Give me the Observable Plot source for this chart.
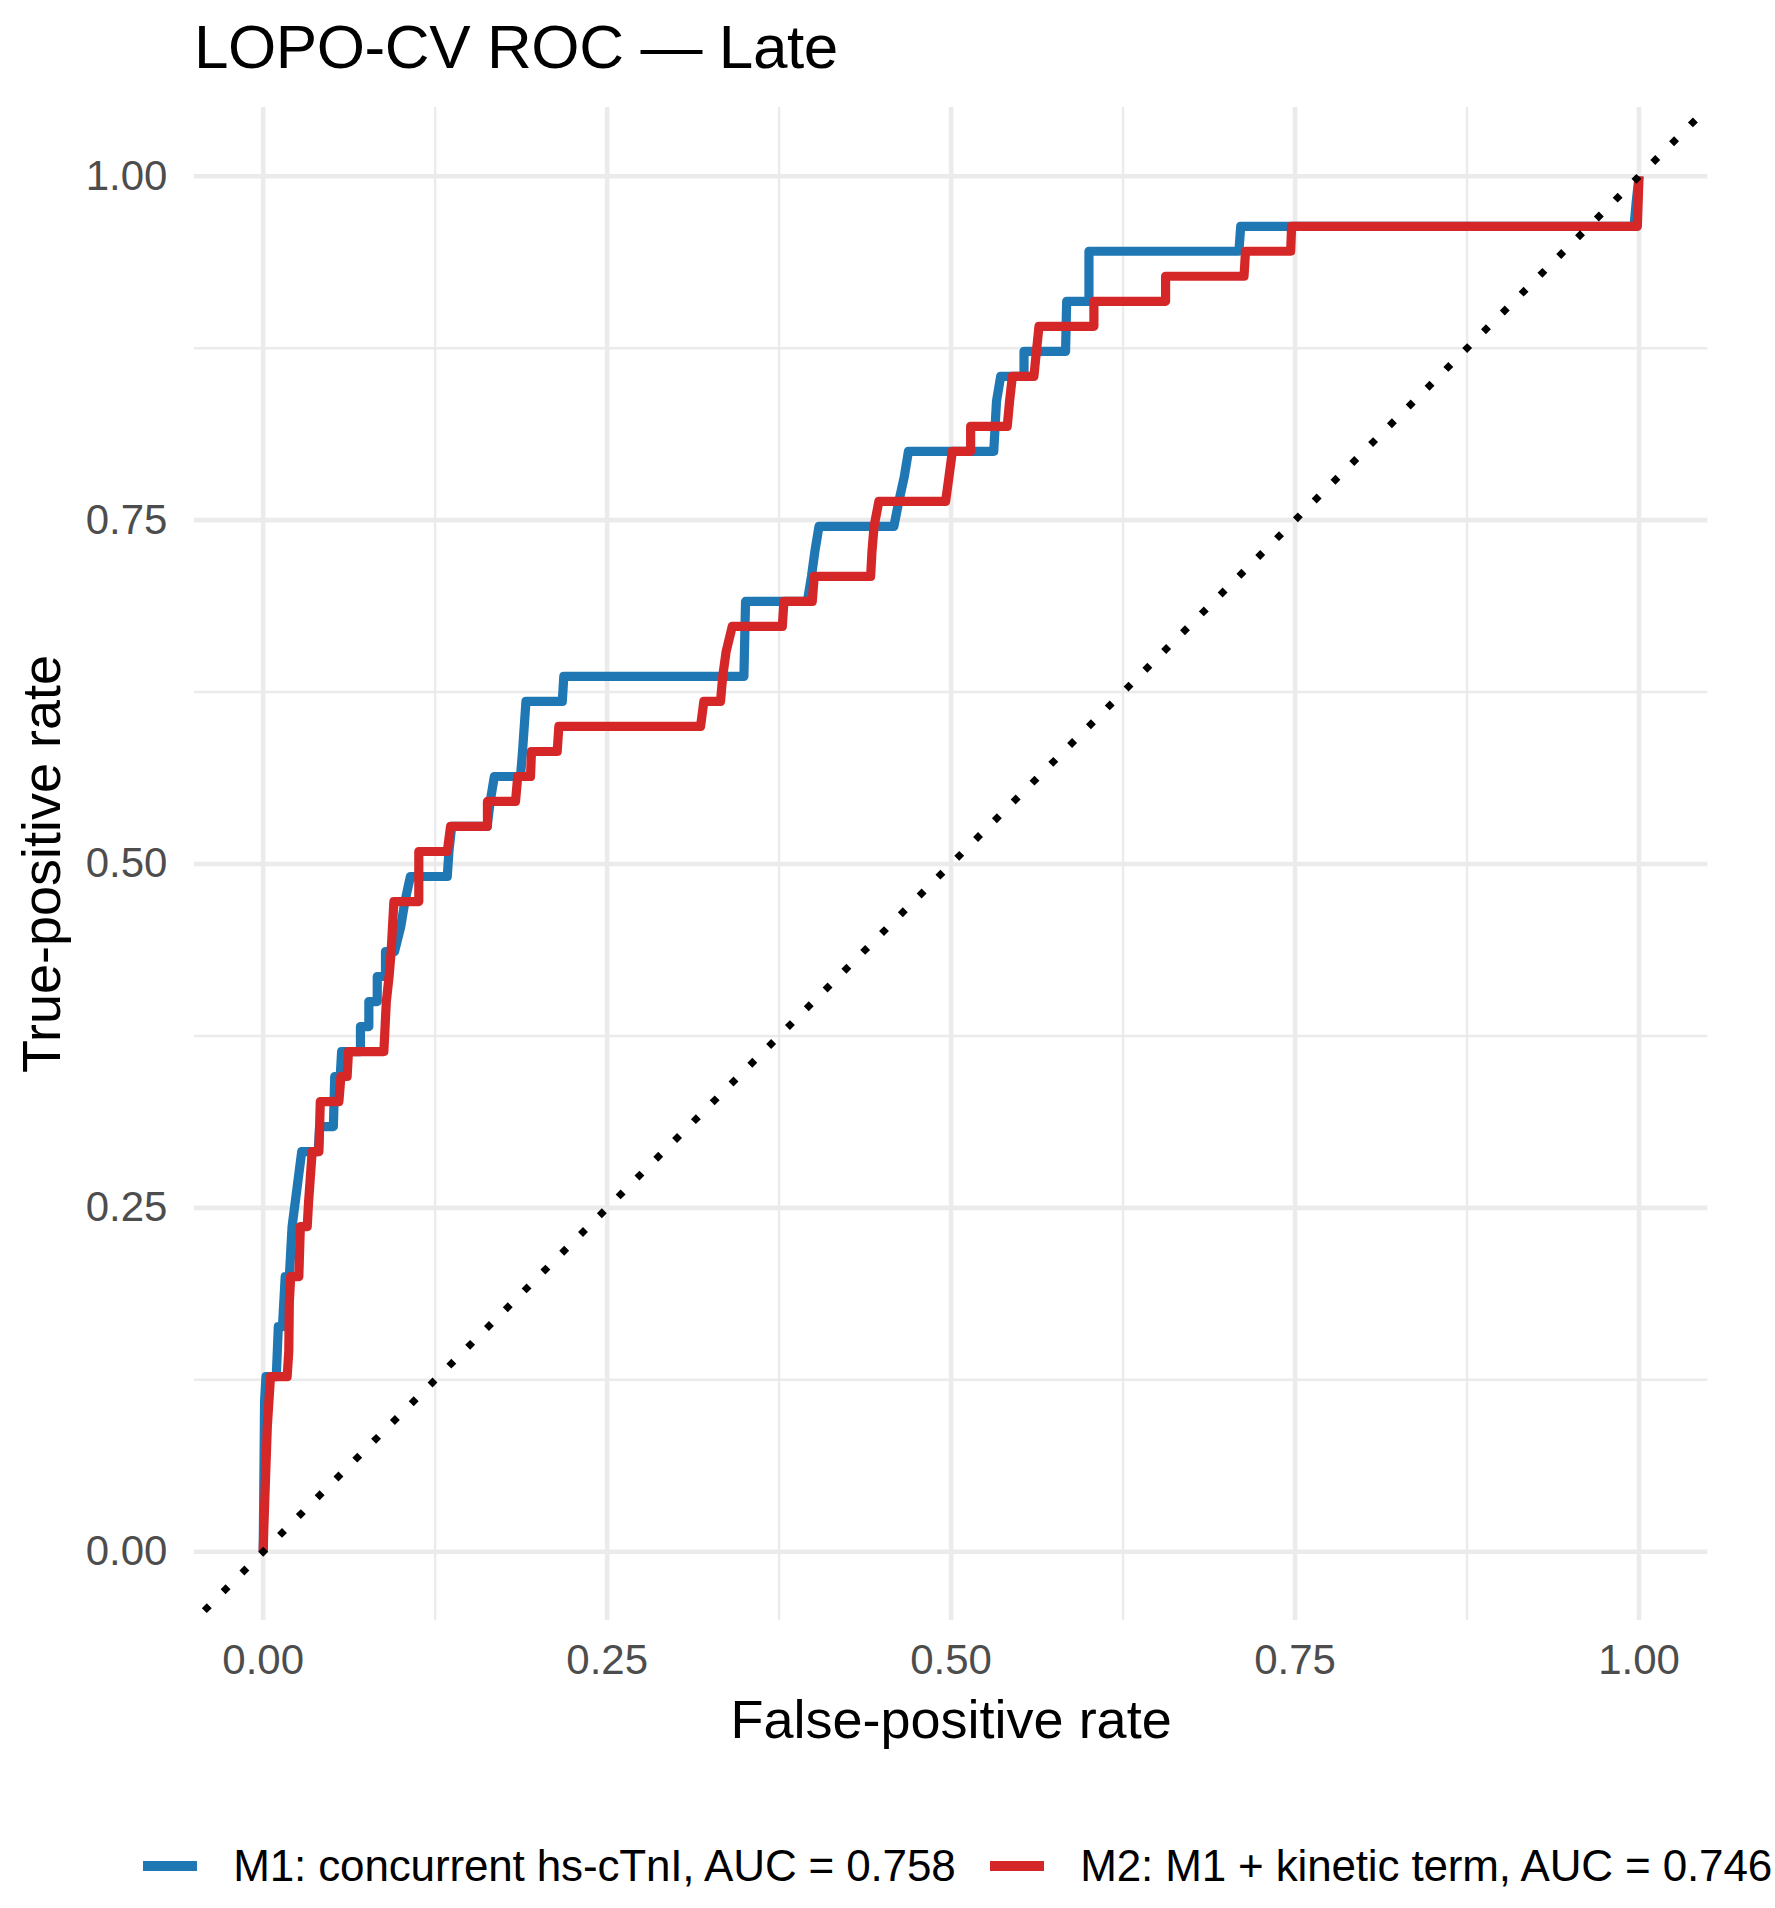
<!DOCTYPE html>
<html>
<head>
<meta charset="utf-8">
<script src="https://cdn.jsdelivr.net/npm/d3@7"></script>
<script src="https://cdn.jsdelivr.net/npm/@observablehq/plot@0.6"></script>
<style>
  html, body { margin: 0; padding: 0; background: #ffffff; }
  body { width: 1775px; height: 1908px; position: relative; overflow: hidden; font-family: "Liberation Sans", Arial, sans-serif; }
  #title { position: absolute; left: 193.9px; top: 15.5px; font-size: 62px; line-height: 1; color: #000; white-space: nowrap; letter-spacing: -0.4px; }
  #chart { position: absolute; left: 0; top: 90px; }
  #legend { position: absolute; left: 142.7px; top: 1844.4px; display: flex; align-items: center; font-size: 44px; line-height: 1; color: #000; white-space: nowrap; letter-spacing: -0.15px; }
  .key { display: inline-block; width: 54px; height: 10px; margin-right: 36.6px; }
  .item { display: flex; align-items: center; margin-right: 34px; }
</style>
</head>
<body>
<div id="title"></div>
<div id="chart"></div>
<div id="legend"></div>
<script>
const titleText = "LOPO-CV ROC — Late";
const xTitle = "False-positive rate";
const yTitle = "True-positive rate";

const seriesNames = ["M1: concurrent hs-cTnI, AUC = 0.758", "M2: M1 + kinetic term, AUC = 0.746"];
const seriesColors = ["#1F77B4", "#D62728"];

const xTickValues = [0, 0.25, 0.5, 0.75, 1];
const xTickLabels = ["0.00", "0.25", "0.50", "0.75", "1.00"];
const yTickValues = [0, 0.25, 0.5, 0.75, 1];
const yTickLabels = ["0.00", "0.25", "0.50", "0.75", "1.00"];
const minorGrid = [0.125, 0.375, 0.625, 0.875];
const axisDomain = [-0.05, 1.05];

// M1: concurrent hs-cTnI
const m1Fpr = [0, 0.001, 0.002, 0.0095, 0.011, 0.014, 0.016, 0.019, 0.021, 0.028, 0.040, 0.041, 0.051, 0.052, 0.056, 0.057,
  0.0707, 0.0707, 0.0768, 0.0768, 0.0829, 0.0829, 0.0889, 0.0889, 0.0955, 0.100, 0.103, 0.107, 0.1338, 0.135, 0.137,
  0.1628, 0.165, 0.168, 0.187, 0.1885, 0.191, 0.2174, 0.2185, 0.3494, 0.3506, 0.3955, 0.3985, 0.401, 0.404, 0.4584,
  0.462, 0.466, 0.469, 0.531, 0.533, 0.536, 0.553, 0.553, 0.5832, 0.584, 0.6002, 0.6002, 0.7092, 0.7105, 0.9964, 0.998, 1];
const m1Tpr = [0, 0.1091, 0.1273, 0.1273, 0.1636, 0.1636, 0.2, 0.2, 0.2364, 0.2909, 0.2909, 0.3091, 0.3091, 0.3455, 0.3455, 0.3636,
  0.3636, 0.3818, 0.3818, 0.4, 0.4, 0.4182, 0.4182, 0.4364, 0.4364, 0.4545, 0.4727, 0.4909, 0.4909, 0.5091, 0.5273,
  0.5273, 0.5455, 0.5636, 0.5636, 0.5818, 0.6182, 0.6182, 0.6364, 0.6364, 0.6909, 0.6909, 0.7091, 0.7273, 0.7455, 0.7455,
  0.7636, 0.7818, 0.8, 0.8, 0.8364, 0.8545, 0.8545, 0.8727, 0.8727, 0.9091, 0.9091, 0.9455, 0.9455, 0.9636, 0.9636, 0.9818, 1];

// M2: M1 + kinetic term
const m2Fpr = [0, 0.0005, 0.003, 0.0053, 0.0174, 0.0186, 0.019, 0.020, 0.0259, 0.027, 0.032, 0.033, 0.0356, 0.0405, 0.0415,
  0.055, 0.0565, 0.061, 0.062, 0.0877, 0.0895, 0.0915, 0.093, 0.095, 0.1131, 0.1131, 0.1338, 0.1362, 0.163, 0.163,
  0.1834, 0.185, 0.1943, 0.195, 0.2137, 0.2149, 0.3179, 0.3203, 0.3324, 0.334, 0.3365, 0.3409, 0.3773, 0.3785, 0.3991,
  0.4005, 0.4415, 0.4425, 0.444, 0.4475, 0.496, 0.4985, 0.5009, 0.5142, 0.5142, 0.5408, 0.5425, 0.5445, 0.5602, 0.562,
  0.5639, 0.6038, 0.6038, 0.6559, 0.6559, 0.7129, 0.714, 0.7468, 0.7475, 0.9988, 1];
const m2Tpr = [0, 0.0182, 0.0909, 0.1273, 0.1273, 0.1455, 0.1818, 0.2, 0.2, 0.2364, 0.2364, 0.2545, 0.2909, 0.2909, 0.3273,
  0.3273, 0.3455, 0.3455, 0.3636, 0.3636, 0.4, 0.4182, 0.4364, 0.4727, 0.4727, 0.5091, 0.5091, 0.5273, 0.5273, 0.5455,
  0.5455, 0.5636, 0.5636, 0.5818, 0.5818, 0.6, 0.6, 0.6182, 0.6182, 0.6364, 0.6545, 0.6727, 0.6727, 0.6909, 0.6909,
  0.7091, 0.7091, 0.7273, 0.7455, 0.7636, 0.7636, 0.7818, 0.8, 0.8, 0.8182, 0.8182, 0.8364, 0.8545, 0.8545, 0.8727,
  0.8909, 0.8909, 0.9091, 0.9091, 0.9273, 0.9273, 0.9455, 0.9455, 0.9636, 0.9636, 1];

const m1 = m1Fpr.map((x, i) => ({fpr: x, tpr: m1Tpr[i]}));
const m2 = m2Fpr.map((x, i) => ({fpr: x, tpr: m2Tpr[i]}));
const diag = axisDomain.map(v => ({fpr: v, tpr: v}));

document.getElementById("title").textContent = titleText;

const grid = "#EBEBEB";
const chart = Plot.plot({
  width: 1775,
  height: 1690,
  marginLeft: 193.9,
  marginRight: 67.7,
  marginTop: 17,
  marginBottom: 160,
  x: {domain: axisDomain},
  y: {domain: axisDomain},
  style: {fontFamily: "'Liberation Sans', Arial, sans-serif", background: "white", overflow: "visible"},
  marks: [
    Plot.ruleY(minorGrid, {stroke: grid, strokeWidth: 2.4}),
    Plot.ruleX(minorGrid, {stroke: grid, strokeWidth: 2.4}),
    Plot.ruleY(yTickValues, {stroke: grid, strokeWidth: 4.6}),
    Plot.ruleX(xTickValues, {stroke: grid, strokeWidth: 4.6}),
    Plot.line(m1, {x: "fpr", y: "tpr", stroke: seriesColors[0], strokeWidth: 9.2, strokeLinejoin: "round", strokeLinecap: "butt"}),
    Plot.line(m2, {x: "fpr", y: "tpr", stroke: seriesColors[1], strokeWidth: 9.2, strokeLinejoin: "round", strokeLinecap: "butt"}),
    Plot.line(diag, {x: "fpr", y: "tpr", stroke: "#000", strokeWidth: 7, strokeLinecap: "butt",
      strokeDasharray: "7,19.6", strokeDashoffset: 12.6}),
    Plot.axisX(xTickValues, {anchor: "bottom", tickSize: 0, tickPadding: 24, fontSize: 42, color: "#4D4D4D", label: null,
      tickFormat: d => xTickLabels[xTickValues.indexOf(d)]}),
    Plot.axisY(yTickValues, {anchor: "left", tickSize: 0, tickPadding: 27, fontSize: 42, color: "#4D4D4D", label: null,
      tickFormat: d => yTickLabels[yTickValues.indexOf(d)]}),
    Plot.text([xTitle], {text: d => d, frameAnchor: "bottom", textAnchor: "middle", dy: 117.3, lineAnchor: "bottom", fontSize: 54, fill: "#000"}),
    Plot.text([yTitle], {text: d => d, frameAnchor: "left", textAnchor: "middle", rotate: -90, dx: -134.6, lineAnchor: "bottom", fontSize: 54, fill: "#000"})
  ]
});
document.getElementById("chart").appendChild(chart);

const legend = document.getElementById("legend");
seriesNames.forEach((name, i) => {
  const item = document.createElement("div");
  item.className = "item";
  const key = document.createElement("span");
  key.className = "key";
  key.style.background = seriesColors[i];
  const label = document.createElement("span");
  label.textContent = name;
  item.appendChild(key);
  item.appendChild(label);
  legend.appendChild(item);
});
</script>
</body>
</html>
